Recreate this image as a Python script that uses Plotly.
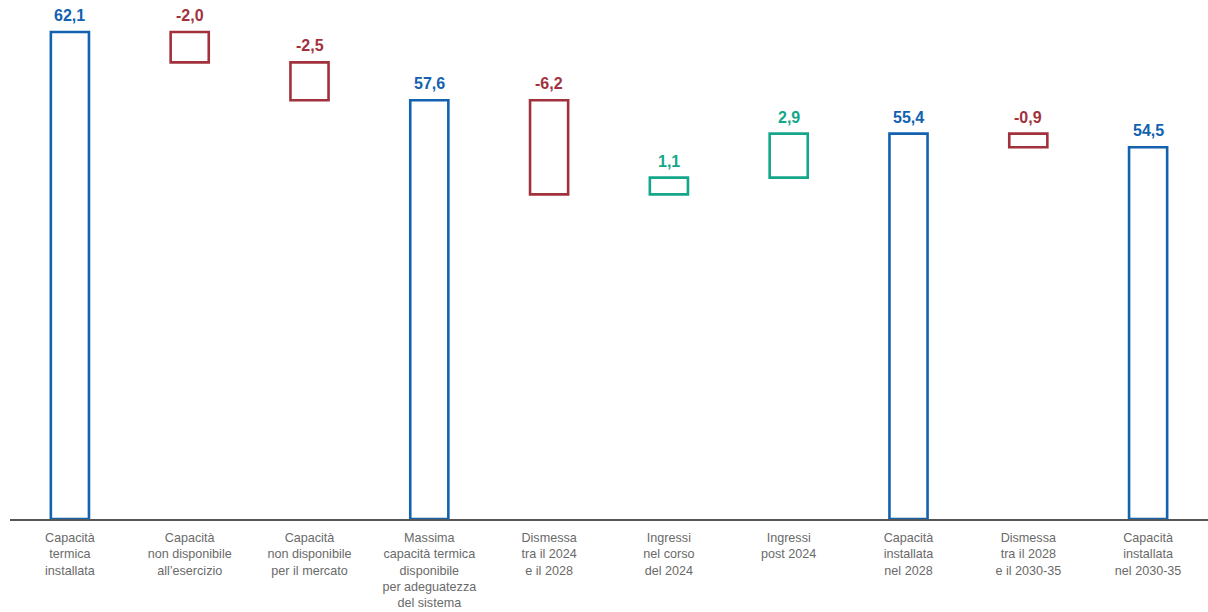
import plotly.graph_objects as go

# Thermal capacity bridge (GW)
categories = [
    "Capacità<br>termica<br>installata",
    "Capacità<br>non disponibile<br>all’esercizio",
    "Capacità<br>non disponibile<br>per il mercato",
    "Massima<br>capacità termica<br>disponibile<br>per adeguatezza<br>del sistema",
    "Dismessa<br>tra il 2024<br>e il 2028",
    "Ingressi<br>nel corso<br>del 2024",
    "Ingressi<br>post 2024",
    "Capacità<br>installata<br>nel 2028",
    "Dismessa<br>tra il 2028<br>e il 2030-35",
    "Capacità<br>installata<br>nel 2030-35",
]
values = [62.1, -2.0, -2.5, 57.6, -6.2, 1.1, 2.9, 55.4, -0.9, 54.5]
is_total = [True, False, False, True, False, False, False, True, False, True]

Y_MIN = 30.0
Y_MAX = 64.21

BLUE = "#1262b0"
RED = "#a1323d"
GREEN = "#14a68a"

# running level for the floating steps
bases, heights, tops, colors, labels = [], [], [], [], []
level = 0.0
for v, tot in zip(values, is_total):
    if tot:
        level = v
        bases.append(Y_MIN)
        heights.append(v - Y_MIN)
        tops.append(v)
        colors.append(BLUE)
    else:
        start = level
        level = level + v
        bases.append(min(start, level))
        heights.append(abs(v))
        tops.append(max(start, level))
        colors.append(GREEN if v > 0 else RED)
    labels.append(f"{v:.1f}".replace(".", ","))

x = list(range(len(categories)))

fig = go.Figure()
fig.add_trace(go.Bar(
    x=x, y=heights, base=bases,
    width=0.318,
    marker=dict(color="white", line=dict(color=colors, width=2.6)),
    hoverinfo="skip",
))

# value labels above each bar
for xi, top, lab, col in zip(x, tops, labels, colors):
    fig.add_annotation(
        x=xi, y=top, text=lab, showarrow=False,
        yanchor="bottom", yshift=6,
        font=dict(family="Liberation Sans", size=16, color=col, weight="bold"),
    )

fig.update_layout(
    width=1208, height=612,
    margin=dict(l=10, r=0, t=0, b=93),
    plot_bgcolor="white", paper_bgcolor="white",
    showlegend=False,
    font=dict(family="Liberation Sans"),
    xaxis=dict(
        tickmode="array", tickvals=x, ticktext=categories,
        range=[-0.5, len(categories) - 0.5],
        showline=True, linecolor="#555555", linewidth=1.5,
        showgrid=False, zeroline=False, ticks="",
        tickfont=dict(size=12.6, color="#6a6a6a"),
        ticklabelstandoff=6, automargin=False,
    ),
    yaxis=dict(
        range=[Y_MIN, Y_MAX], visible=False, showgrid=False, zeroline=False,
    ),
)

fig.write_html("out.html")
